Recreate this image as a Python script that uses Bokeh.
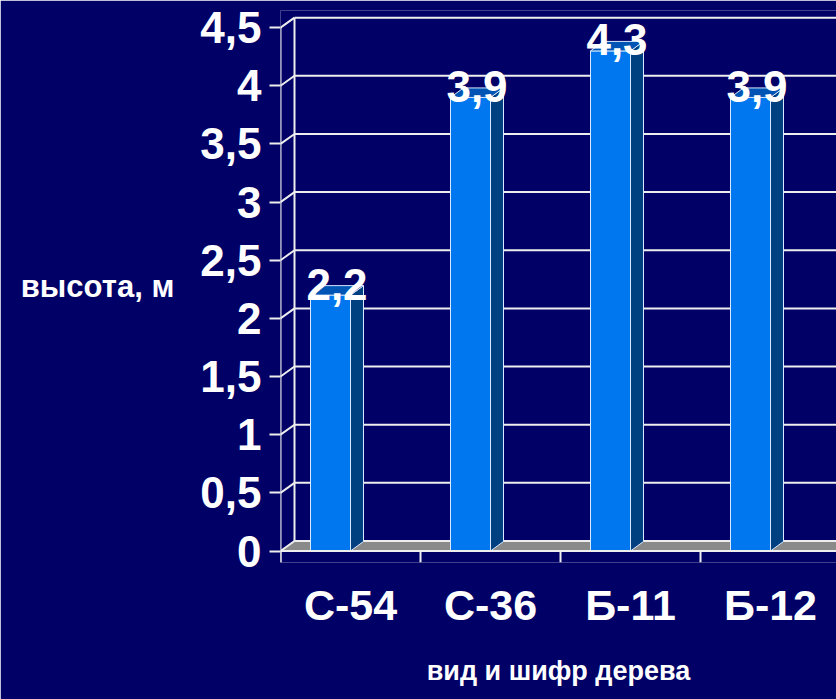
from bokeh.plotting import figure
from bokeh.models import FixedTicker, Range1d
from bokeh.core.properties import value
from bokeh.embed import file_html
from bokeh.resources import INLINE

# ---- data ----
categories = ["С-54", "С-36", "Б-11", "Б-12"]
heights = [2.2, 3.9, 4.3, 3.9]
value_labels = ["2,2", "3,9", "4,3", "3,9"]
y_ticks = [0.0, 0.5, 1.0, 1.5, 2.0, 2.5, 3.0, 3.5, 4.0, 4.5]
y_tick_labels = ["0", "0,5", "1", "1,5", "2", "2,5", "3", "3,5", "4", "4,5"]
y_title = "высота, м"
x_title = "вид и шифр дерева"

# ---- geometry (screen px -> data units) ----
W, H = 836, 699
LEFT, TOP, BOTTOM = 280, 10, 562
Y0 = 550.5               # screen y of value 0
PX = 116.3               # px per unit of value
CW = 140.0               # px per category
FONT = "Liberation Sans"
BG = "#000066"

ux = lambda px: px / CW
uy = lambda px: px / PX

x_end = (W - LEFT) / CW
y_start = -(BOTTOM - Y0) / PX
y_end = (Y0 - TOP) / PX

p = figure(width=W, height=H, output_backend="svg", toolbar_location=None,
           x_range=Range1d(0, x_end), y_range=Range1d(y_start, y_end),
           min_border_left=LEFT, min_border_right=0, min_border_top=TOP,
           min_border_bottom=H - BOTTOM,
           background_fill_color=BG, border_fill_color=BG,
           outline_line_color=None)
p.grid.visible = False

# back-wall offsets
bdx, bdy = ux(14), uy(10)

# floor
p.patch([0, x_end, x_end, bdx], [0, 0, bdy, bdy], fill_color="#8a8a8a",
        line_color=None)

# grid: left wall diagonals, back horizontal lines
GRID = "#eeeeee"
p.segment(x0=[0] * len(y_ticks), y0=y_ticks, x1=[bdx] * len(y_ticks),
          y1=[v + bdy for v in y_ticks], line_color=GRID, line_width=2)
p.segment(x0=[bdx] * len(y_ticks), y0=[v + bdy for v in y_ticks],
          x1=[x_end] * len(y_ticks), y1=[v + bdy for v in y_ticks],
          line_color=GRID, line_width=2)
p.segment(x0=[bdx], y0=[bdy], x1=[bdx], y1=[y_ticks[-1] + bdy],
          line_color=GRID, line_width=2)

# bars (3D look)
fw, sdx, sdy = ux(40), ux(13), uy(9.5)
rights = [i + 0.5 for i in range(len(categories))]
lefts = [r - fw for r in rights]
EDGE = "#d8e8ff"
p.quad(left=lefts, right=rights, bottom=[0] * len(heights), top=heights,
       fill_color="#0077ee", line_color=EDGE, line_width=1)
p.patches(xs=[[r, r + sdx, r + sdx, r] for r in rights],
          ys=[[0, sdy, v + sdy, v] for v in heights],
          fill_color="#003f80", line_color=EDGE, line_width=1)
p.patches(xs=[[l, r, r + sdx, l + sdx] for l, r in zip(lefts, rights)],
          ys=[[v, v, v + sdy, v + sdy] for v in heights],
          fill_color="#0055b4", line_color=EDGE, line_width=1)

# front floor edge and front axis line
p.segment(x0=[0], y0=[0], x1=[x_end], y1=[0], line_color=GRID, line_width=2)
p.segment(x0=[0], y0=[y_start], x1=[0], y1=[y_ticks[-1]], line_color=GRID,
          line_width=2)
# x tick marks at category boundaries
bounds = list(range(len(categories)))
p.segment(x0=bounds, y0=[0] * len(bounds), x1=bounds,
          y1=[y_start] * len(bounds), line_color=GRID, line_width=2)

# value labels
p.text(x=[l + (fw + sdx) / 2 for l in lefts],
       y=[v + uy(11) for v in heights], text=value_labels,
       text_font=value(FONT), text_font_style="bold", text_font_size="44px",
       text_color="white", text_align="center", text_baseline="alphabetic")

# y axis
ya = p.yaxis[0]
ya.ticker = FixedTicker(ticks=y_ticks)
ya.major_label_overrides = dict(zip(y_ticks, y_tick_labels))
ya.axis_line_color = None
ya.major_tick_out = 11
ya.major_tick_in = 0
ya.major_tick_line_color = GRID
ya.major_tick_line_width = 2
ya.minor_tick_line_color = None
ya.major_label_standoff = 8
ya.major_label_text_font = FONT
ya.major_label_text_font_style = "bold"
ya.major_label_text_font_size = "44px"
ya.major_label_text_color = "white"
ya.axis_label = y_title
ya.axis_label_text_font = FONT
ya.axis_label_text_font_style = "bold"
ya.axis_label_text_font_size = "31px"
ya.axis_label_text_color = "white"
ya.axis_label_standoff = 23
try:
    ya.axis_label_orientation = "horizontal"
except Exception:
    pass

# x axis
xa = p.xaxis[0]
xa.ticker = FixedTicker(ticks=[i + 0.5 for i in range(len(categories))])
xa.major_label_overrides = {i + 0.5: c for i, c in enumerate(categories)}
xa.axis_line_color = None
xa.major_tick_line_color = None
xa.major_tick_out = 0
xa.major_tick_in = 0
xa.minor_tick_line_color = None
xa.major_label_standoff = 18
xa.major_label_text_font = FONT
xa.major_label_text_font_style = "bold"
xa.major_label_text_font_size = "43px"
xa.major_label_text_color = "white"
xa.axis_label = x_title
xa.axis_label_text_font = FONT
xa.axis_label_text_font_style = "bold"
xa.axis_label_text_font_size = "27px"
xa.axis_label_text_color = "white"
xa.axis_label_standoff = 24

open("out.html", "w").write(file_html(p, INLINE))
